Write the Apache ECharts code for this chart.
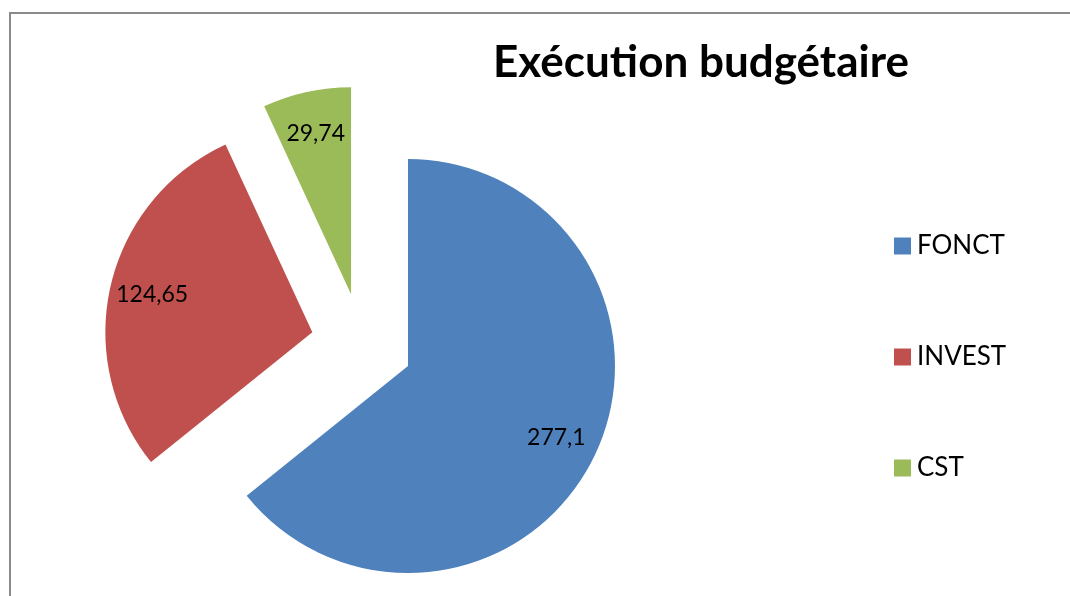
<!DOCTYPE html>
<html>
<head>
<meta charset="utf-8">
<title>Exécution budgétaire</title>
<script src="https://cdn.jsdelivr.net/npm/echarts@6/dist/echarts.min.js"></script>
<style>
  html, body { margin: 0; padding: 0; background: #ffffff; }
  #chart { width: 1070px; height: 596px; }
</style>
</head>
<body>
<div id="chart"></div>
<script>
// Budget execution by category
const categories = ['FONCT', 'INVEST', 'CST'];
const values = [277.1, 124.65, 29.74];
const colors = ['#4F81BD', '#C0504D', '#9BBB59'];
const chartTitle = 'Exécution budgétaire';

const fontFamily = 'Lato, "Open Sans", "Liberation Sans", sans-serif';
const pieCenter = [362, 344];
const pieRadius = 207;
const explode = 51;

// Values are shown with a decimal comma
const frNumber = v => String(v).replace('.', ',');

const sliceData = categories.map((name, i) => ({
  name: name,
  value: values[i],
  selected: true,
  itemStyle: { color: colors[i] }
}));

const labelData = categories.map((name, i) => ({
  name: name,
  value: values[i],
  selected: true
}));

const chart = echarts.init(document.getElementById('chart'), null, { renderer: 'canvas' });

chart.setOption({
  backgroundColor: '#ffffff',
  animation: false,
  title: {
    text: chartTitle,
    left: 696,
    top: 36,
    textAlign: 'center',
    textStyle: {
      fontFamily: fontFamily,
      fontWeight: 'bold',
      fontSize: 44,
      color: '#000000'
    }
  },
  legend: {
    data: categories,
    orient: 'vertical',
    left: 889,
    top: 228,
    itemWidth: 17,
    itemHeight: 17,
    itemGap: 85,
    icon: 'rect',
    selectedMode: false,
    textStyle: {
      fontFamily: fontFamily,
      fontSize: 26,
      color: '#000000',
      padding: [0, 0, 0, 1]
    }
  },
  graphic: [{
    type: 'rect',
    silent: true,
    shape: { x: 10, y: 13, width: 1200, height: 800 },
    style: { fill: null, stroke: '#8a8a8a', lineWidth: 2 }
  }],
  series: [
    {
      // Exploded slices
      type: 'pie',
      center: pieCenter,
      radius: [0, pieRadius],
      startAngle: 90,
      clockwise: true,
      selectedMode: 'multiple',
      selectedOffset: explode,
      silent: true,
      label: { show: false },
      labelLine: { show: false },
      emphasis: { disabled: true },
      data: sliceData
    },
    {
      // Value labels, placed on an invisible ring over the slices
      type: 'pie',
      center: pieCenter,
      radius: [116, pieRadius],
      startAngle: 90,
      clockwise: true,
      selectedMode: 'multiple',
      selectedOffset: explode,
      silent: true,
      z: 5,
      itemStyle: { color: 'transparent' },
      emphasis: { disabled: true },
      labelLine: { show: false },
      label: {
        show: true,
        position: 'inside',
        formatter: p => frNumber(p.value),
        fontFamily: fontFamily,
        fontSize: 23,
        color: '#000000'
      },
      data: labelData
    }
  ]
});
</script>
</body>
</html>
